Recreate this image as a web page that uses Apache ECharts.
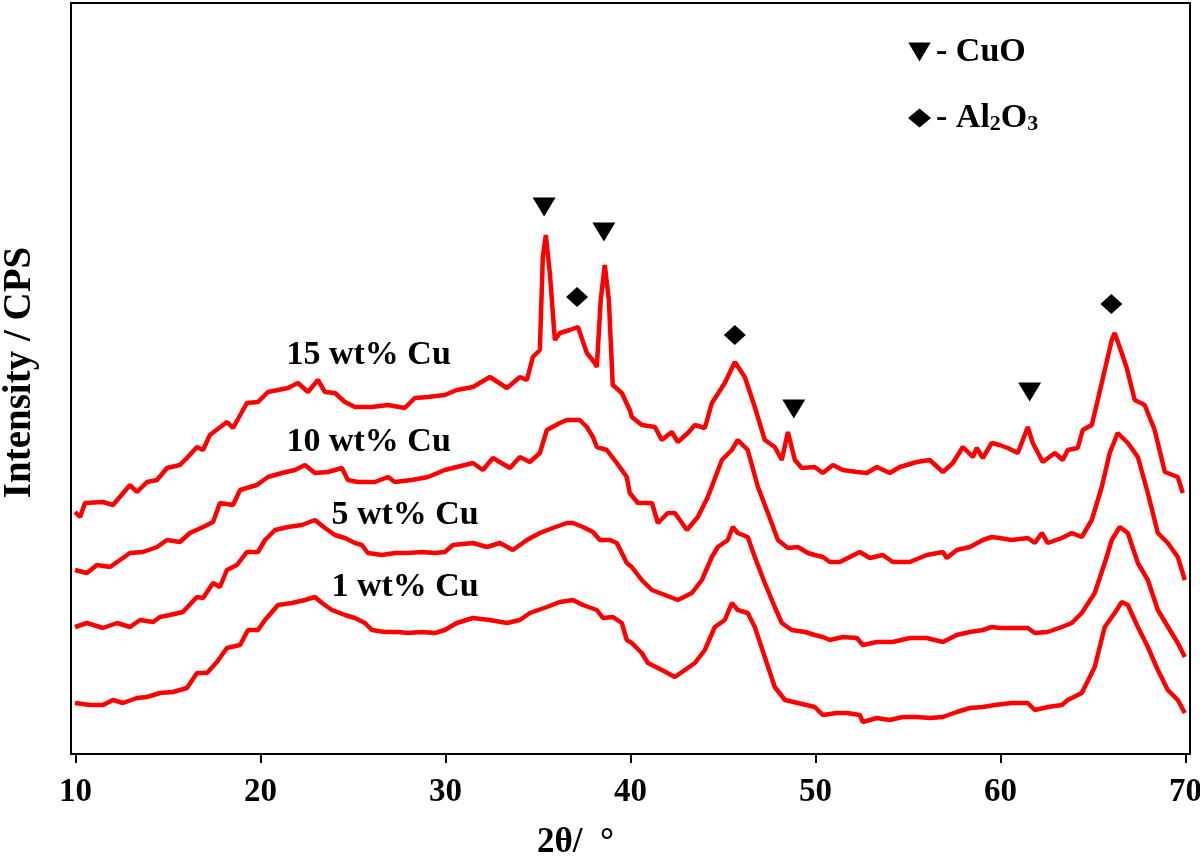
<!DOCTYPE html>
<html>
<head>
<meta charset="utf-8">
<script src="https://cdn.jsdelivr.net/npm/echarts@6/dist/echarts.min.js"></script>
<style>html,body{margin:0;padding:0;background:#fff;}#chart{width:1200px;height:857px;}</style>
</head>
<body>
<div id="chart"></div>
<script>
// 2θ (deg) vs intensity (CPS, curves offset for display)
const cu15 = [[9.97,242],[10.24,237],[10.51,251],[11.48,252],[12.02,249],[12.94,269],[13.32,262],[13.86,272],[14.40,274],[14.94,286],[15.64,289],[16.02,296],[16.56,307],[16.89,304],[17.26,319],[18.18,332],[18.51,326],[19.26,351],[19.86,352],[20.40,362],[21.48,366],[22.02,371],[22.56,362],[23.10,374],[23.48,362],[24.02,361],[24.56,352],[25.10,347],[26.02,347],[26.89,349],[27.80,346],[28.34,356],[29.05,357],[29.96,359],[30.61,364],[31.48,367],[32.40,377],[33.32,366],[34.02,377],[34.40,374],[34.72,397],[35.10,404],[35.26,497],[35.42,519],[35.64,481],[35.91,414],[36.18,421],[36.72,424],[37.16,427],[37.64,401],[38.07,391],[38.18,387],[38.39,454],[38.61,489],[38.83,454],[39.04,369],[39.53,361],[39.96,344],[40.07,337],[40.61,329],[41.32,327],[41.69,314],[42.23,322],[42.56,312],[43.10,321],[43.48,329],[44.02,326],[44.40,351],[45.10,371],[45.64,392],[46.18,377],[46.72,347],[47.26,314],[47.80,307],[48.18,294],[48.51,322],[48.89,294],[49.26,286],[49.96,287],[50.40,281],[50.94,289],[51.48,284],[52.24,282],[52.78,281],[53.32,287],[54.02,281],[54.56,287],[55.48,292],[56.18,294],[56.89,282],[57.43,291],[57.97,307],[58.51,297],[58.72,306],[59.05,296],[59.53,311],[59.96,309],[60.40,306],[60.94,301],[61.48,327],[61.75,311],[62.29,292],[62.94,301],[63.37,294],[63.64,304],[64.18,306],[64.45,324],[64.94,329],[65.48,371],[66.02,414],[66.18,421],[66.56,401],[66.83,386],[67.26,354],[67.80,349],[68.34,324],[68.89,282],[69.59,277],[69.86,261]];
const cu10 = [[9.97,184],[10.61,181],[11.15,189],[11.86,187],[12.94,201],[13.64,202],[14.40,207],[14.94,214],[15.64,212],[16.18,221],[16.89,227],[17.43,232],[17.80,251],[18.51,249],[18.89,264],[19.80,269],[20.40,277],[21.16,281],[21.86,284],[22.40,289],[22.94,281],[23.64,282],[24.40,286],[24.72,274],[25.26,272],[26.18,272],[26.89,277],[27.26,272],[28.18,274],[29.05,277],[29.96,284],[30.61,287],[31.48,291],[32.02,284],[32.56,296],[33.48,286],[34.02,297],[34.56,292],[35.10,301],[35.48,324],[36.18,331],[36.56,334],[37.26,334],[37.64,327],[37.97,317],[38.18,307],[38.72,304],[39.26,291],[39.80,277],[39.96,261],[40.40,251],[41.16,251],[41.48,231],[42.02,241],[42.40,241],[43.05,224],[43.64,237],[44.18,257],[44.94,294],[45.48,304],[45.80,314],[46.34,304],[46.89,267],[47.43,241],[47.97,214],[48.51,206],[49.05,207],[49.59,201],[49.96,199],[50.40,197],[50.78,192],[51.32,192],[51.86,197],[52.40,202],[52.94,196],[53.64,199],[54.18,192],[55.10,192],[56.02,199],[56.89,202],[57.10,196],[57.64,204],[58.35,207],[59.05,214],[59.53,217],[59.96,216],[60.61,214],[61.48,216],[61.86,211],[62.24,221],[62.56,211],[63.32,216],[63.86,221],[64.40,217],[64.94,234],[65.48,267],[65.91,301],[66.34,321],[66.89,311],[67.43,297],[67.97,261],[68.51,221],[69.05,211],[69.59,197],[69.97,174]];
const cu5 = [[9.97,127],[10.61,131],[11.48,126],[12.24,131],[12.94,127],[13.48,134],[14.19,132],[14.56,137],[15.10,139],[15.80,142],[16.56,157],[16.89,156],[17.43,171],[17.80,167],[18.18,184],[18.72,189],[19.26,202],[19.86,202],[20.24,214],[20.78,224],[21.48,227],[22.24,229],[22.94,234],[23.48,226],[24.02,219],[24.56,216],[25.10,211],[25.48,209],[25.80,201],[26.56,199],[27.26,201],[27.97,201],[28.72,202],[29.43,201],[29.96,202],[30.40,209],[31.48,211],[32.24,207],[32.94,211],[33.64,204],[34.40,214],[35.10,221],[35.80,226],[36.56,231],[36.89,231],[37.43,227],[37.97,222],[38.34,214],[38.89,214],[39.26,211],[39.80,191],[40.07,187],[40.61,174],[41.16,164],[41.86,159],[42.56,154],[43.32,161],[43.86,174],[44.40,197],[44.72,207],[45.26,214],[45.53,227],[45.80,221],[46.34,217],[46.72,197],[47.26,171],[47.80,147],[48.18,131],[48.72,124],[49.43,122],[49.96,119],[50.40,117],[50.78,114],[51.48,117],[52.24,116],[52.56,109],[53.32,112],[54.18,112],[55.10,116],[56.02,116],[56.89,112],[57.64,119],[58.35,122],[59.05,124],[59.53,127],[59.96,126],[60.61,126],[61.48,126],[61.86,121],[62.56,122],[63.32,127],[63.86,131],[64.40,141],[65.10,161],[65.64,191],[66.02,214],[66.45,227],[66.89,221],[67.43,191],[67.97,174],[68.51,144],[69.26,121],[69.59,111],[69.97,97]];
const cu1 = [[9.97,51],[10.78,49],[11.48,49],[12.02,54],[12.56,51],[13.32,56],[13.86,57],[14.56,61],[15.26,62],[16.02,66],[16.56,81],[17.10,81],[17.64,92],[18.18,106],[18.89,109],[19.32,124],[19.86,124],[20.24,134],[20.94,149],[21.70,151],[22.40,154],[22.94,157],[23.32,151],[23.86,144],[24.56,139],[25.10,136],[25.64,131],[26.02,124],[26.72,122],[27.43,122],[27.97,121],[28.72,122],[29.43,121],[29.96,124],[30.61,131],[31.48,136],[32.40,134],[33.32,131],[34.02,134],[34.56,141],[35.48,147],[36.18,152],[36.89,154],[37.43,149],[38.18,144],[38.51,136],[39.05,137],[39.53,131],[39.80,114],[40.07,111],[40.61,101],[40.94,91],[41.70,84],[42.40,77],[42.94,84],[43.48,91],[44.02,104],[44.56,127],[45.10,134],[45.48,151],[45.80,144],[46.34,141],[46.72,127],[47.26,97],[47.80,67],[48.35,54],[49.05,51],[49.96,47],[50.40,39],[51.16,41],[51.70,41],[52.40,39],[52.56,32],[53.32,36],[54.02,34],[54.72,37],[55.48,37],[56.18,36],[56.89,37],[57.64,42],[58.35,46],[59.05,47],[59.70,49],[60.61,51],[61.48,51],[61.86,44],[62.56,47],[63.32,49],[63.64,54],[64.40,61],[65.10,87],[65.64,127],[66.18,141],[66.56,152],[66.89,149],[67.43,127],[67.97,107],[68.51,84],[69.05,64],[69.59,54],[69.97,41]];
// reflection markers
const cuoPeaks = [[35.33,547],[38.56,522],[48.83,345],[61.58,362]];
const al2o3Peaks = [[37.11,457],[45.64,419],[66.00,450]];
const sampleNames = ['15 wt% Cu','10 wt% Cu','5 wt% Cu','1 wt% Cu'];
const labelAnchors = [[21.40,399],[21.40,312],[23.83,239],[23.83,167]];
const xTicks = [10,20,30,40,50,60,70];

const FONT = "'Liberation Serif','Times New Roman',serif";
const chart = echarts.init(document.getElementById('chart'), null, {renderer:'canvas'});
const curves = [cu15, cu10, cu5, cu1];
const lineSeries = curves.map((d, i) => ({
  name: sampleNames[i],
  type: 'line',
  data: d,
  symbol: 'none',
  lineStyle: {color: '#ff0000', width: 4.5},
  itemStyle: {color: '#ff0000'},
  z: 2,
  markPoint: {
    symbol: 'circle', symbolSize: 0, silent: true,
    itemStyle: {color: 'rgba(0,0,0,0)'},
    label: {show: true, position: 'right', distance: 0, formatter: sampleNames[i],
      color: '#000', fontFamily: FONT, fontWeight: 'bold', fontSize: 34},
    data: [{coord: labelAnchors[i]}]
  }
}));
const triPath = 'path://M0,0L20,0L10,17Z';
chart.setOption({
  animation: false,
  backgroundColor: '#fff',
  grid: {left: 71, right: 10, top: 3, bottom: 103, containLabel: false, outerBoundsMode: 'none',
    show: true, borderColor: '#000', borderWidth: 2, backgroundColor: 'transparent'},
  legend: {
    data: [{name: 'CuO', icon: triPath}, {name: 'Al2O3', icon: 'diamond'}],
    orient: 'vertical', left: 903, top: 29, itemWidth: 23, itemHeight: 19, itemGap: 30,
    selectedMode: false,
    itemStyle: {opacity: 1},
    formatter: n => n === 'CuO' ? '- CuO' : '- Al{sub|2}O{sub|3}',
    textStyle: {color: '#000', fontFamily: FONT, fontWeight: 'bold', fontSize: 34, lineHeight: 36,
      rich: {sub: {fontFamily: FONT, fontWeight: 'bold', fontSize: 22, color: '#000', padding: [13,0,0,0]}}}
  },
  xAxis: {
    type: 'value', min: 9.75, max: 70.25,
    name: '2θ/  °', nameLocation: 'middle', nameGap: 71,
    nameTextStyle: {color: '#000', fontFamily: FONT, fontWeight: 'bold', fontSize: 35, padding: [0, 110, 0, 0]},
    axisLine: {show: true, lineStyle: {color: '#000', width: 2}},
    axisTick: {show: true, length: 9, inside: false, customValues: xTicks, lineStyle: {color: '#000', width: 2}},
    axisLabel: {customValues: xTicks, margin: 22, color: '#000', fontFamily: FONT, fontWeight: 'bold', fontSize: 33},
    splitLine: {show: false}
  },
  yAxis: {
    type: 'value', min: 0, max: 751,
    name: 'Intensity / CPS', nameLocation: 'middle', nameGap: 32,
    nameTextStyle: {color: '#000', fontFamily: FONT, fontWeight: 'bold', fontSize: 39, padding: [0, 0, 0, 12]},
    axisLine: {show: true, lineStyle: {color: '#000', width: 2}},
    axisTick: {show: false}, axisLabel: {show: false}, splitLine: {show: false}
  },
  series: lineSeries.concat([
    {name: 'CuO', type: 'scatter', data: cuoPeaks, symbol: triPath, symbolSize: [23,19], itemStyle: {color: '#000', opacity: 1}, z: 3},
    {name: 'Al2O3', type: 'scatter', data: al2o3Peaks, symbol: 'diamond', symbolSize: [22,20], itemStyle: {color: '#000', opacity: 1}, z: 3}
  ])
});
</script>
</body>
</html>
